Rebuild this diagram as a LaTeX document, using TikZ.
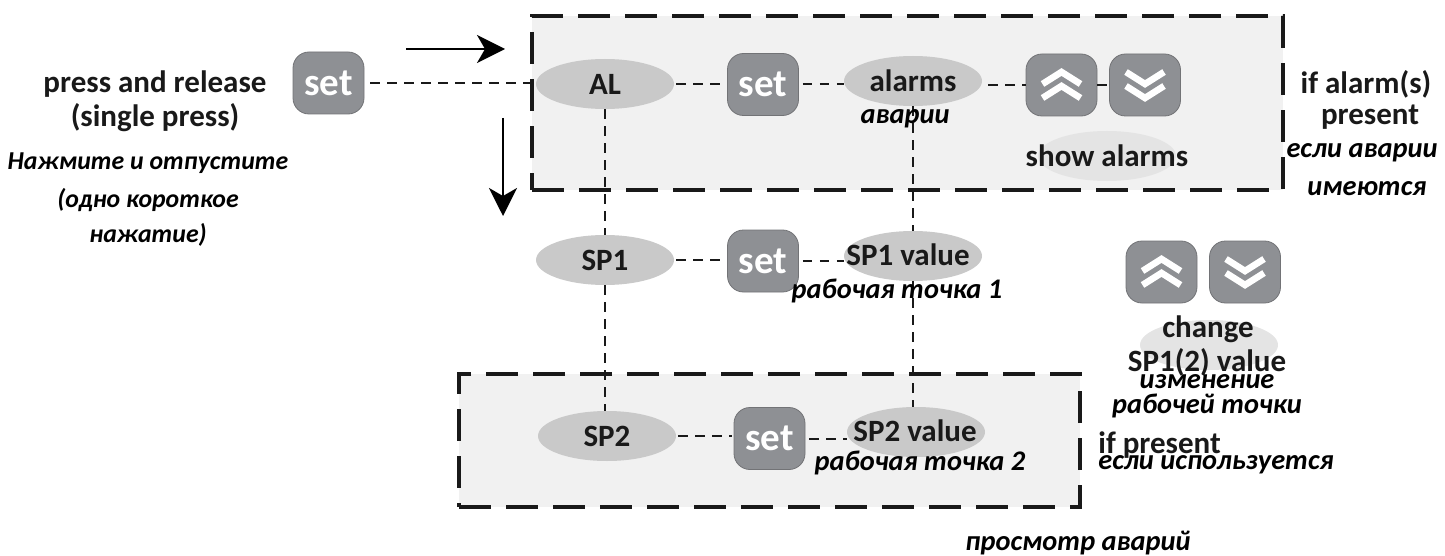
\documentclass[tikz,border=0pt]{standalone}
\usepackage{fontspec}
\setmainfont{Carlito}
\usetikzlibrary{shapes.geometric,arrows.meta}
\definecolor{btn}{HTML}{8E9094}
\definecolor{ell}{HTML}{C9C9C9}
\definecolor{ellb}{HTML}{E4E4E4}
\definecolor{boxf}{HTML}{F1F1F1}
\tikzset{
 framebox/.style={fill=boxf,draw=black!90,line width=1.6pt,dash pattern=on 16pt off 7.5pt,rectangle,inner sep=0pt},
 oval/.style={ellipse,fill=ell,inner sep=0pt,minimum width=69pt,minimum height=25pt},
 paleoval/.style={oval,fill=ellb},
 btnbox/.style={rectangle,rounded corners=8pt,fill=btn,draw=btn!80!black,line width=.4pt,minimum width=35.5pt,minimum height=31pt,inner sep=0pt},
 settext/.style={text=white,font=\fontsize{19.5}{20}\selectfont\bfseries},
 conn/.style={draw=black!90,line width=1pt,dash pattern=on 4.7pt off 3.8pt},
 arr/.style={draw=black,line width=1pt,-{Stealth[length=14pt,width=14pt,inset=4pt]}},
 en/.style={inner sep=0pt,align=center,font=\fontsize{15.5}{16}\selectfont\bfseries,text=black!90},
 ru/.style={en,font=\fontsize{14.2}{15}\selectfont\bfseries\itshape,text=black},
 rusmall/.style={en,font=\fontsize{12.9}{14}\selectfont\bfseries\itshape,text=black},
 chev/.style={draw=white,line width=3.3pt,line join=miter}
}
\newcommand{\chevup}[1]{\begin{scope}[shift={(#1)}]
 \draw[chev] (-19,-1)--(0,-13)--(19,-1);
 \draw[chev] (-19,13)--(0,1)--(19,13);
\end{scope}}
\newcommand{\chevdown}[1]{\begin{scope}[shift={(#1)}]
 \draw[chev] (-19,1)--(0,13)--(19,1);
 \draw[chev] (-19,-13)--(0,-1)--(19,-13);
\end{scope}}
\begin{document}
\begin{tikzpicture}[x=.5pt,y=-.5pt]
\useasboundingbox (0,0) rectangle (1445,556);
\node[framebox,minimum width=375.5pt,minimum height=87pt] (top) at (907.5,103) {};
\node[framebox,minimum width=310.5pt,minimum height=66.5pt] (low) at (769.5,440.5) {};
% ovals
\node[oval] (al) at (605,84) {};
\node[oval] (alarms) at (913,81) {};
\node[paleoval] (show) at (1107,156) {};
\node[oval] (sp1) at (605,260) {};
\node[oval] (sp1v) at (913,256) {};
\node[paleoval] (chg) at (1209,345) {};
\node[oval] (sp2) at (607,436) {};
\node[oval] (sp2v) at (916,432) {};
% buttons
\node[btnbox] (set0) at (328.5,83) {};
\node[btnbox] (set1) at (763,84.5) {};
\node[btnbox] (up) at (1061.5,85) {};
\node[btnbox] (down) at (1145,85) {};
\node[btnbox] (set2) at (763,261) {};
\node[btnbox] (up2) at (1161.5,272) {};
\node[btnbox] (down2) at (1245,272) {};
\node[btnbox] (set3) at (769.5,438.5) {};
\node[settext] at (set0) {set};
\node[settext] at (set1) {set};
\node[settext] at (set2) {set};
\node[settext] at (set3) {set};
\chevup{up}\chevdown{down}\chevup{up2}\chevdown{down2}
% connectors
\draw[conn,shorten <=3pt,shorten >=3pt] (set0.east) -- (al.west |- set0.east);
\draw[conn,shorten <=1pt,shorten >=1pt] (al.east) -- (set1.west |- al.east);
\draw[conn,shorten <=2pt] (set1.east) -- (alarms.west |- set1.east);
\draw[conn,shorten <=3pt] (alarms.east |- up.west) -- (up.west);
\draw[conn] (up.east) -- (down.west);
\draw[conn,shorten <=1pt,shorten >=1pt] (sp1.east) -- (set2.west |- sp1.east);
\draw[conn,shorten <=2pt] (set2.east) -- (sp1v.west |- set2.east);
\draw[conn,shorten <=1pt,shorten >=1pt] (sp2.east) -- (set3.west |- sp2.east);
\draw[conn,shorten <=2pt] (set3.east) -- (sp2v.west |- set3.east);
\draw[conn] (al.south) -- (sp1.north);
\draw[conn] (sp1.south) -- (sp1.south |- sp2.north);
\draw[conn] (alarms.south) -- (alarms.south |- sp1v.north);
\draw[conn] (sp1v.south) -- (sp1v.south |- sp2v.north);
% arrows
\coordinate (a1) at (406,49); \coordinate (a2) at (505,49);
\coordinate (b1) at (503,118); \coordinate (b2) at (503,216);
\draw[arr] (a1) -- (a2);
\draw[arr] (b1) -- (b2);
% texts
\node[en] (t1) at (155,84) {press and release};
\node[en] (t2) at (155,118) {(single press)};
\node[rusmall] (t3) at (148,163) {Нажмите и отпустите};
\node[rusmall] (t4) at (148,200) {(одно короткое};
\node[rusmall] (t5) at (148,235) {нажатие)};
\node[en] (t6) at (al) {AL};
\node[en] (t7) at (alarms) {alarms};
\node[ru] (t8) at (905,119) {аварии};
\node[en] (t9) at (show) {show alarms};
\node[en] (t10) at (1366,84) {if alarm(s)};
\node[en] (t11) at (1370,117) {present};
\node[ru] (t12) at (1362,153) {если аварии};
\node[ru] (t13) at (1367,189) {имеются};
\node[en] (t14) at (sp1) {SP1};
\node[en] (t15) at (908,255) {SP1 value};
\node[ru] (t16) at (897,291) {рабочая точка 1};
\node[en] (t17) at (1208,329) {change};
\node[en] (t18) at (1207,362) {SP1(2) value};
\node[ru] (t19) at (1207,382) {изменение};
\node[ru] (t20) at (1207,406) {рабочей точки};
\node[en] (t21) at (sp2) {SP2};
\node[en] (t22) at (915,431) {SP2 value};
\node[ru] (t23) at (920,463) {рабочая точка 2};
\node[en,anchor=west] (t24) at (1098,445) {if present};
\node[ru,anchor=west] (t25) at (1098,465) {если используется};
\node[ru] (t26) at (1078,543) {просмотр аварий};
\end{tikzpicture}
\end{document}
